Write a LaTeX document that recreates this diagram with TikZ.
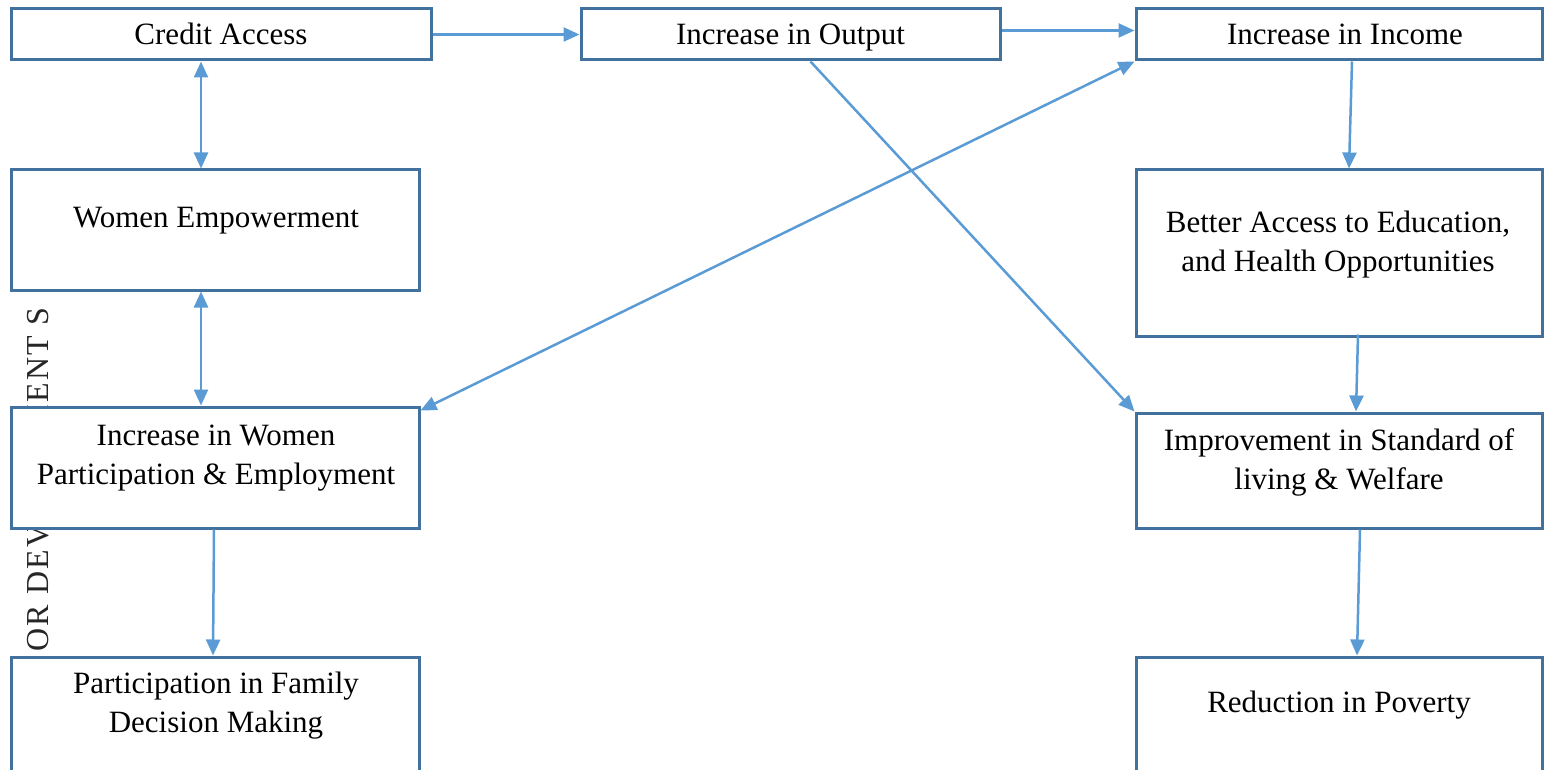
\documentclass[tikz,border=0pt]{standalone}
\usepackage{fontspec}
\setmainfont{Liberation Serif}
\usetikzlibrary{arrows.meta,calc}
\definecolor{boxline}{HTML}{41719C}
\definecolor{arrowc}{HTML}{5B9BD5}
\begin{document}
\begin{tikzpicture}[x=1pt,y=-1pt,
  box/.style={draw=boxline, line width=3pt, fill=white, inner sep=0pt, rectangle},
  toptxt/.style={font=\fontsize{31}{39}\selectfont, text height=20pt, text depth=0pt},
  txt/.style={font=\fontsize{31}{39}\selectfont, align=center, inner sep=0pt},
  arr/.style={draw=arrowc, line width=2.5pt, -{Triangle[length=16pt,width=14pt]}},
  darr/.style={draw=arrowc, line width=2.5pt, {Triangle[length=16pt,width=14pt]}-{Triangle[length=16pt,width=14pt]}}]
\useasboundingbox (0,0) rectangle (1546,770);
\clip (0,0) rectangle (1546,770);

% faint side text partly hidden by boxes
\node[rotate=90, anchor=west, inner sep=0pt, text=black!85,
      font=\fontsize{32}{32}\selectfont\addfontfeature{LetterSpace=7}] (side) at (38,652) {OR DEVELOPMENT S};

% boxes
\node[box, toptxt, minimum width=420, minimum height=51] (ca)  at (221,34.5) {Credit Access};
\node[box, toptxt, minimum width=419, minimum height=51] (out) at (790.5,34.5) {Increase in Output};
\node[box, toptxt, minimum width=406, minimum height=51] (inc) at (1339,34.5) {\hspace*{12pt}Increase in Income};
\node[box, minimum width=408, minimum height=120] (we)  at (215,230) {};
\node[box, minimum width=408, minimum height=121] (iw)  at (215,467.5) {};
\node[box, minimum width=408, minimum height=143] (pf)  at (215,728.5) {};
\node[box, minimum width=406, minimum height=166] (ba)  at (1339,253) {};
\node[box, minimum width=406, minimum height=115] (imp) at (1339,470.5) {};
\node[box, minimum width=406, minimum height=143] (rp)  at (1339,728.5) {};

% texts
\node[txt] (weT)  at (216,221) {Women Empowerment};
\node[txt] (iwT)  at (216,458) {Increase in Women\\Participation \& Employment};
\node[txt] (pfT)  at (216,706) {Participation in Family\\Decision Making};
\node[txt] (baT)  at (1338,245) {Better Access to Education,\\and Health Opportunities};
\node[txt] (impT) at (1339,462) {Improvement in Standard of\\living \& Welfare};
\node[txt] (rpT)  at (1339,705) {Reduction in Poverty};

% connectors
\draw[arr] (ca.east) -- (out.west);
\draw[arr] ([yshift=4pt]out.east) -- ([yshift=4pt]inc.west);
\draw[darr] ([xshift=-20pt]ca.south) -- ([xshift=-14pt]we.north);
\draw[darr] ([xshift=-14pt]we.south) -- ([xshift=-14pt]iw.north);
\draw[darr] ([yshift=-5pt]iw.north east) -- (inc.south west);
\draw[arr] ([xshift=20pt]out.south) -- (imp.north west);
\draw[arr] ([xshift=13pt]inc.south) -- ([xshift=10pt]ba.north);
\draw[arr] ([xshift=19pt,yshift=3pt]ba.south) -- ([xshift=17pt]imp.north);
\draw[arr] ([xshift=-1pt]iw.south) -- ([xshift=-2pt]pf.north);
\draw[arr] ([xshift=21pt]imp.south) -- ([xshift=18pt]rp.north);
\end{tikzpicture}
\end{document}
